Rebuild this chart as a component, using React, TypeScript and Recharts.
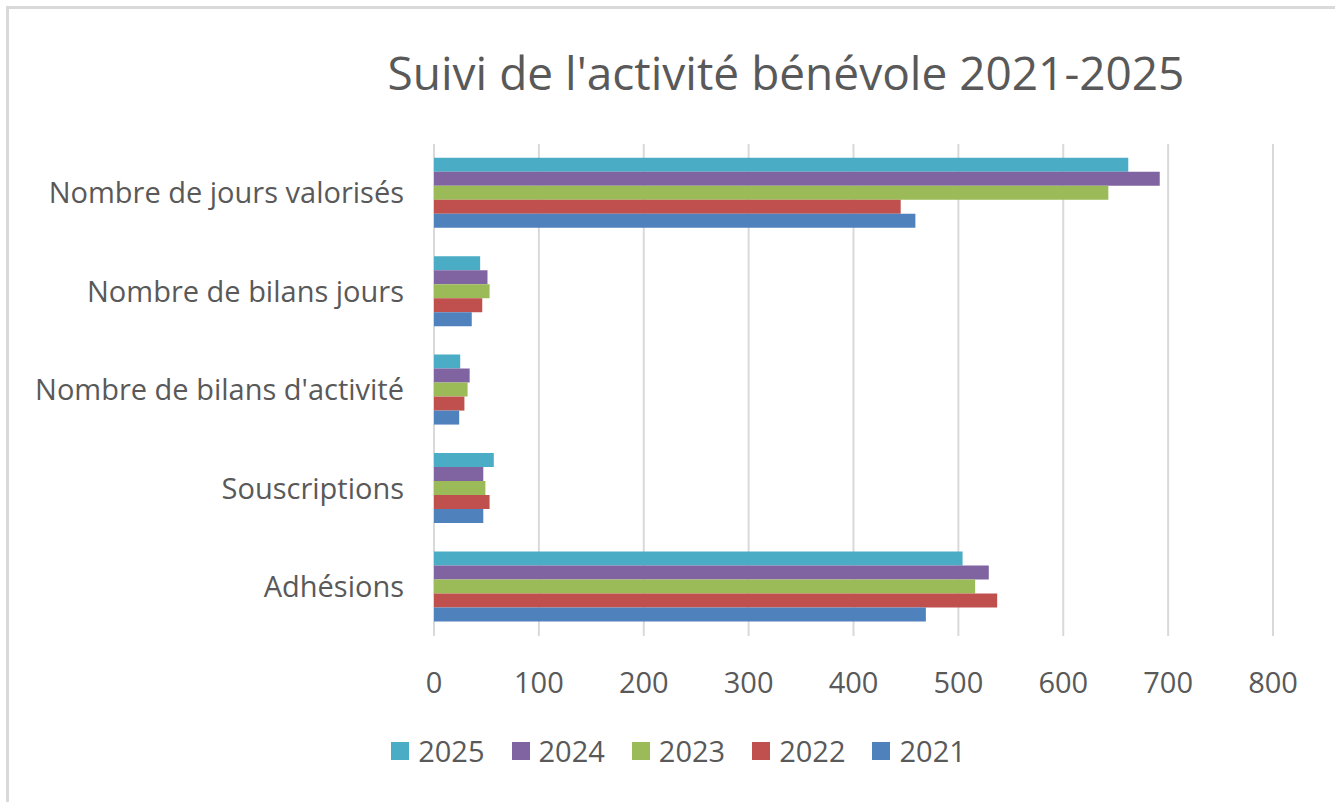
import React from "react";
import { BarChart, Bar, XAxis, YAxis, CartesianGrid, Legend } from "recharts";

// Données (de haut en bas)
const categories = [
  "Nombre de jours valorisés",
  "Nombre de bilans jours",
  "Nombre de bilans d'activité",
  "Souscriptions",
  "Adhésions",
];
const y2025 = [662, 44, 25, 57, 504];
const y2024 = [692, 51, 34, 47, 529];
const y2023 = [643, 53, 32, 49, 516];
const y2022 = [445, 46, 29, 53, 537];
const y2021 = [459, 36, 24, 47, 469];
const xTicks = [0, 100, 200, 300, 400, 500, 600, 700, 800];

const SERIES = [
  { key: "2025", values: y2025, color: "#4BACC6" },
  { key: "2024", values: y2024, color: "#8064A2" },
  { key: "2023", values: y2023, color: "#9BBB59" },
  { key: "2022", values: y2022, color: "#C0504D" },
  { key: "2021", values: y2021, color: "#4F81BD" },
];

const data = categories.map((name, i) => {
  const row: Record<string, string | number> = { name };
  SERIES.forEach((s) => { row[s.key] = s.values[i]; });
  return row;
});

const FONT = "'Open Sans', sans-serif";
const TEXT = "#595959";
const tick = { fontSize: 29, fill: TEXT, fontFamily: FONT } as const;

// légende dans l'ordre des séries (2025 -> 2021), comme l'original
function LegendContent() {
  return (
    <div style={{ height: 30, display: "flex", justifyContent: "center", alignItems: "center",
      paddingLeft: 84, fontFamily: FONT, fontSize: 29, color: TEXT, gap: 27 }}>
      {SERIES.map((s) => (
        <span key={s.key} style={{ display: "inline-flex", alignItems: "center", gap: 9, lineHeight: "30px" }}>
          <span style={{ width: 18, height: 18, background: s.color, display: "inline-block" }} />
          {s.key}
        </span>
      ))}
    </div>
  );
}

export default function App() {
  return (
    <div style={{ position: "absolute", left: 0, top: 0, width: 1335, height: 802, background: "#fff", overflow: "hidden" }}>
      <div style={{ position: "absolute", left: 6, top: 6, right: 0, bottom: 0,
        borderLeft: "3px solid #D9D9D9", borderTop: "3px solid #D9D9D9" }} />
      <div style={{ position: "absolute", left: 386, top: 49, width: 800, textAlign: "center",
        fontFamily: FONT, fontSize: 46, lineHeight: "46px", color: TEXT, whiteSpace: "nowrap" }}>
        Suivi de l'activité bénévole 2021-2025
      </div>
      <div style={{ position: "absolute", left: 0, top: 0 }}>
        <BarChart width={1335} height={802} data={data} layout="vertical"
          margin={{ top: 144, right: 62, left: 0, bottom: 36 }} barCategoryGap="14%" barGap={0}>
          <CartesianGrid horizontal={false} stroke="#D9D9D9" strokeWidth={2} />
          <XAxis type="number" domain={[0, 800]} ticks={xTicks} tick={tick} tickLine={false}
            axisLine={false} tickSize={6} tickMargin={30} height={100} interval={0} />
          <YAxis type="category" dataKey="name" tick={tick} tickLine={false} axisLine={false}
            tickSize={6} tickMargin={24} width={434} interval={0} />
          <Legend verticalAlign="bottom" content={<LegendContent />} />
          {SERIES.map((s) => (
            <Bar key={s.key} dataKey={s.key} name={s.key} fill={s.color} isAnimationActive={false} />
          ))}
        </BarChart>
      </div>
    </div>
  );
}
